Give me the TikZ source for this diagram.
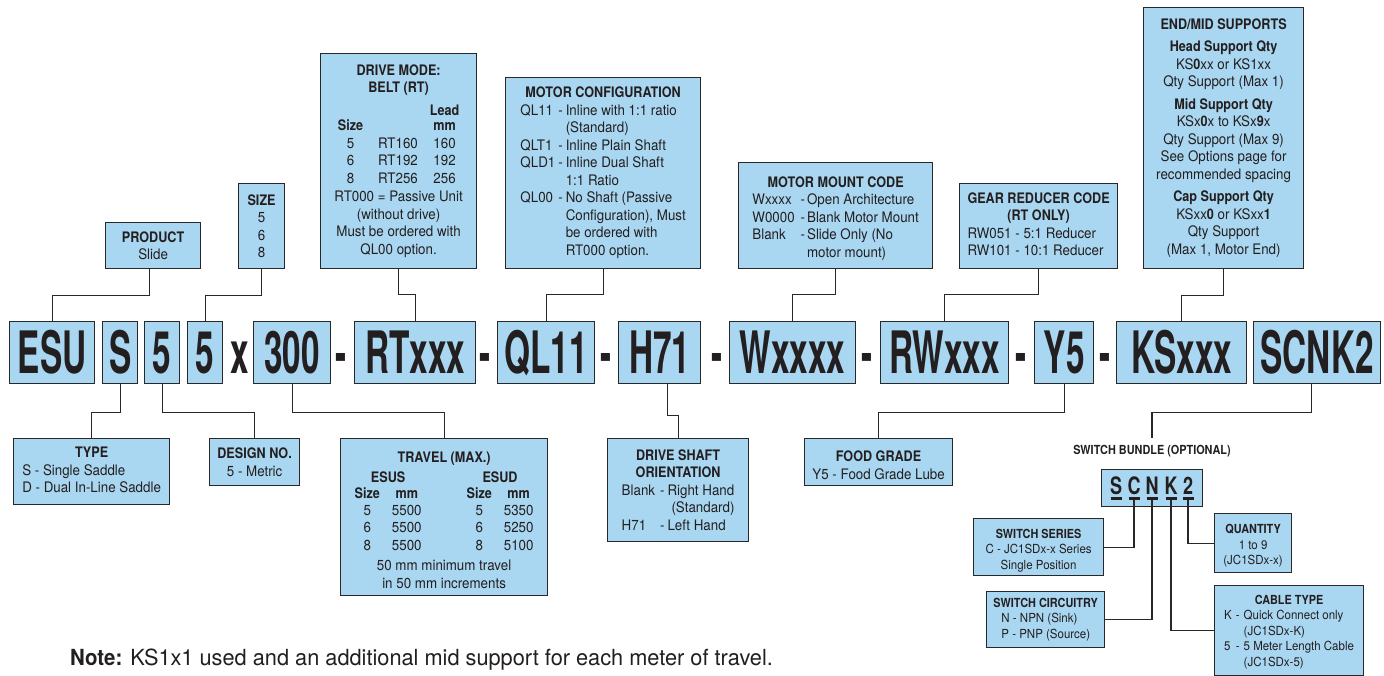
\documentclass[tikz,border=0pt]{standalone}
\usepackage{fontspec}
\setmainfont{TeX Gyre Heros}[UprightFeatures={FakeStretch=0.92}, BoldFeatures={FakeStretch=0.87}]
\newfontfamily\codefont{TeX Gyre Heros}[FakeStretch=0.57]
\newfontfamily\swfont{TeX Gyre Heros}[FakeStretch=0.75]
\newfontfamily\notefont{TeX Gyre Heros}[UprightFeatures={FakeStretch=0.98}, BoldFeatures={FakeStretch=0.92}]
\definecolor{boxc}{RGB}{169,214,240}
\definecolor{linec}{RGB}{40,40,40}
\definecolor{txtc}{RGB}{35,31,32}
\setlength{\tabcolsep}{0pt}
\newcommand{\toppad}[1]{\rule{0pt}{#1}}
\tikzset{
  box/.style={draw=linec, fill=boxc, line width=1.2pt, anchor=north west, inner sep=0pt, align=center, text=txtc, font=\fontsize{14.5}{17.5}\selectfont},
  smallbox/.style={box, font=\fontsize{12.5}{15.5}\selectfont},
  codebox/.style={box, line width=1.3pt, font=\codefont\bfseries\fontsize{58.5}{60}\selectfont, text height=42pt, text depth=0pt, minimum height=62pt},
  codesep/.style={anchor=base, inner sep=0pt, text=txtc, font=\codefont\bfseries\fontsize{58.5}{60}\selectfont},
  swletter/.style={anchor=base, inner sep=0pt, text=txtc, font=\swfont\bfseries\fontsize{24}{26}\selectfont},
  wire/.style={draw=linec, line width=1.2pt},
  uline/.style={draw=txtc, line width=2.4pt},
}
\begin{document}
\begin{tikzpicture}[x=1pt, y=-1pt]
\useasboundingbox (0,0) rectangle (1384,675);
\fill[white] (0,0) rectangle (1384,675);

% ---- main code row ----
\node[codebox, minimum width=85pt] (esu) at (9,321) {ESU};
\node[codebox, minimum width=35pt] (s) at (102,321) {S};
\node[codebox, minimum width=35pt] (fivea) at (144,321) {5};
\node[codebox, minimum width=35pt] (fiveb) at (187,321) {5};
\node[codesep] (xx) at (240,373) {x};
\node[codebox, minimum width=77pt] (trv) at (253,321) {300};
\node[codesep] (d1) at (341,373) {-};
\node[codebox, minimum width=121pt] (rt) at (354,321) {RTxxx};
\node[codesep] (d2) at (485,373) {-};
\node[codebox, minimum width=97pt] (ql) at (497,321) {QL11};
\node[codesep] (d3) at (606,373) {-};
\node[codebox, minimum width=82pt] (h71) at (618,321) {H71};
\node[codesep] (d4) at (717,373) {-};
\node[codebox, minimum width=126pt] (w) at (729,321) {Wxxxx};
\node[codesep] (d5) at (867,373) {-};
\node[codebox, minimum width=128pt] (rw) at (880,321) {RWxxx};
\node[codesep] (d6) at (1021,373) {-};
\node[codebox, minimum width=59pt] (y5) at (1034,321) {Y5};
\node[codesep] (d7) at (1105,373) {-};
\node[codebox, minimum width=130pt] (ks) at (1116,321) {KSxxx};
\node[codebox, minimum width=127pt] (scnk) at (1253,321) {SCNK2};

% ---- upper boxes ----
\node[box, minimum width=95pt, minimum height=46pt] (product) at (105,222) {\textbf{PRODUCT}\\Slide};
\node[box, minimum width=46pt, minimum height=85pt] (size) at (238,183) {\textbf{SIZE}\\5\\6\\8};
\node[box, minimum width=156pt, minimum height=215pt] (drive) at (320,53) {\textbf{DRIVE MODE:}\\\textbf{BELT (RT)}\\[6pt]
\begin{tabular}{@{}c@{\hspace{15pt}}c@{\hspace{12pt}}c@{}}
 & & \textbf{Lead}\\[-2pt]
\textbf{Size} & & \textbf{mm}\\
5 & RT160 & 160\\
6 & RT192 & 192\\
8 & RT256 & 256
\end{tabular}\\[2pt]
RT000 = Passive Unit\\(without drive)\\Must be ordered with\\QL00 option.};
\node[box, minimum width=195pt, minimum height=191pt] (motor) at (505,77) {%
\begin{tabular}{@{}l@{\hspace{3pt}}l@{\hspace{3pt}}l@{}}
\multicolumn{3}{c}{\textbf{MOTOR CONFIGURATION}}\\
QL11 & - & Inline with 1:1 ratio\\
 & & (Standard)\\
QLT1 & - & Inline Plain Shaft\\
QLD1 & - & Inline Dual Shaft\\
 & & 1:1 Ratio\\
QL00 & - & No Shaft (Passive\\
 & & Configuration), Must\\
 & & be ordered with\\
 & & RT000 option.
\end{tabular}};
\node[box, minimum width=194pt, minimum height=106pt] (mount) at (738,162) {%
\begin{tabular}{@{}l@{\hspace{6pt}}l@{\hspace{2pt}}l@{}}
\multicolumn{3}{c}{\toppad{18.5pt}\textbf{MOTOR MOUNT CODE}}\\
Wxxxx & - & Open Architecture\\
W0000 & - & Blank Motor Mount\\
Blank & - & Slide Only (No\\
 & & motor mount)
\end{tabular}};
\node[box, minimum width=158pt, minimum height=85pt] (gear) at (959,183) {%
\begin{tabular}{@{}l@{}}
\multicolumn{1}{c}{\textbf{GEAR REDUCER CODE}}\\
\multicolumn{1}{c}{\textbf{(RT ONLY)}}\\
RW051 - 5:1 Reducer\\
RW101 - 10:1 Reducer
\end{tabular}};
\node[box, minimum width=160pt, minimum height=261pt] (supports) at (1143,7) {%
\textbf{END/MID SUPPORTS}\\[5pt]
\textbf{Head Support Qty}\\KS\textbf{0}xx or KS1xx\\Qty Support (Max 1)\\[5pt]
\textbf{Mid Support Qty}\\KSx\textbf{0}x to KSx\textbf{9}x\\Qty Support (Max 9)\\See Options page for\\recommended spacing\\[5pt]
\textbf{Cap Support Qty}\\KSxx\textbf{0} or KSxx\textbf{1}\\Qty Support\\(Max 1, Motor End)};

% ---- lower boxes ----
\node[box, minimum width=156pt, minimum height=66pt] (type) at (13,438) {%
\begin{tabular}{@{}l@{}}
\multicolumn{1}{c}{\textbf{TYPE}}\\
S - Single Saddle\\
D - Dual In-Line Saddle
\end{tabular}};
\node[box, minimum width=90pt, minimum height=47pt] (design) at (209,438) {\textbf{DESIGN NO.}\\5 - Metric};
\node[box, minimum width=207pt, minimum height=157pt] (travel) at (340,438) {%
\begin{tabular}{@{}c@{\hspace{12pt}}c@{\hspace{45pt}}c@{\hspace{12pt}}c@{}}
\multicolumn{4}{c}{\toppad{22pt}\textbf{TRAVEL (MAX.)}}\\[2pt]
\multicolumn{2}{c@{\hspace{45pt}}}{\textbf{ESUS}} & \multicolumn{2}{c}{\textbf{ESUD}}\\[-1pt]
\textbf{Size} & \textbf{mm} & \textbf{Size} & \textbf{mm}\\[-1pt]
5 & 5500 & 5 & 5350\\
6 & 5500 & 6 & 5250\\
8 & 5500 & 8 & 5100\\[3pt]
\multicolumn{4}{c}{50 mm minimum travel}\\
\multicolumn{4}{c}{in 50 mm increments}
\end{tabular}};
\node[box, minimum width=141pt, minimum height=103pt] (shaft) at (607,438) {%
\begin{tabular}{@{}l@{\hspace{5pt}}l@{\hspace{3pt}}l@{}}
\multicolumn{3}{c}{\toppad{16pt}\textbf{DRIVE SHAFT}}\\
\multicolumn{3}{c}{\textbf{ORIENTATION}}\\
Blank & - & Right Hand\\
 & & \hspace{4pt}(Standard)\\
H71 & - & Left Hand
\end{tabular}};
\node[box, minimum width=148pt, minimum height=47pt] (food) at (804,438) {\toppad{17pt}\textbf{FOOD GRADE}\\Y5 - Food Grade Lube};

% ---- switch bundle ----
\node[inner sep=0pt, text=txtc, font=\bfseries\fontsize{12.5}{15}\selectfont] (swlabel) at (1152,451) {SWITCH BUNDLE (OPTIONAL)};
\node[box, minimum width=101pt, minimum height=37pt] (swbox) at (1101,469) {};
\node[swletter] (ls) at (1116,494) {S};
\node[swletter] (lc) at (1134,494) {C};
\node[swletter] (ln) at (1152,494) {N};
\node[swletter] (lk) at (1171,494) {K};
\node[swletter] (ltwo) at (1188,494) {2};
\foreach \n in {ls,lc,ln,lk,ltwo}
  \draw[uline] ([xshift=-5.5pt,yshift=-4.5pt]\n.base) -- ([xshift=5.5pt,yshift=-4.5pt]\n.base);

\node[smallbox, minimum width=130pt, minimum height=57pt] (series) at (973,518) {\toppad{16pt}\textbf{SWITCH SERIES}\\C - JC1SDx-x Series\\Single Position};
\node[smallbox, minimum width=118pt, minimum height=56pt] (circ) at (986,591) {%
\begin{tabular}{@{}l@{}}
\multicolumn{1}{c}{\textbf{SWITCH CIRCUITRY}}\\
\hspace{8pt}N - NPN (Sink)\\
\hspace{8pt}P - PNP (Source)
\end{tabular}};
\node[smallbox, minimum width=77pt, minimum height=59pt] (qty) at (1214,513) {\toppad{15pt}\textbf{QUANTITY}\\1 to 9\\(JC1SDx-x)};
\node[smallbox, minimum width=149pt, minimum height=90pt] (cable) at (1214,585) {%
\begin{tabular}{@{}l@{\hspace{4pt}}l@{\hspace{4pt}}l@{}}
\multicolumn{3}{c}{\toppad{14pt}\textbf{CABLE TYPE}}\\
K & - & Quick Connect only\\
 & & (JC1SDx-K)\\
5 & - & 5 Meter Length Cable\\
 & & (JC1SDx-5)
\end{tabular}};

% ---- note ----
\node[anchor=west, inner sep=0pt, text=txtc, font=\notefont\fontsize{22.2}{26}\selectfont] (note) at (70,660) {\textbf{Note:} KS1x1 used and an additional mid support for each meter of travel.};

% ---- connectors (upper) ----
\draw[wire] ([xshift=-4pt]product.south) -- ++(0,26) -| (esu.north);
\draw[wire] (size.south) -- ++(0,26) -| (fiveb.north);
\draw[wire] (drive.south) -- ++(0,25) -| (rt.north);
\draw[wire] (motor.south) -- ++(0,25) -| (ql.north);
\draw[wire] (mount.south) -- ++(0,25) -| (w.north);
\draw[wire] (gear.south) -- ++(0,25) -| (rw.north);
\draw[wire] (supports.south) -- ++(0,26) -| (ks.north);
% ---- connectors (lower) ----
\draw[wire] (s.south) -- ++(0,28) -| (type.north);
\draw[wire] (fivea.south) -- ++(0,28) -| (design.north);
\draw[wire] (trv.south) -- ++(0,28) -| (travel.north);
\draw[wire] ([xshift=8pt]h71.south) -- ++(0,31) -| (shaft.north);
\draw[wire] (y5.south) -- ++(0,28) -| (food.north);
\draw[wire] ([xshift=-6pt]scnk.south) -- ++(0,28) -| ([yshift=7pt]swlabel.north);
% ---- switch connectors ----
\draw[wire] ([yshift=-6pt]lc.base) |- (series.east);
\draw[wire] ([yshift=-6pt]ln.base) |- (circ.east);
\draw[wire] ([yshift=-6pt]lk.base) |- (cable.west);
\draw[wire] ([yshift=-6pt]ltwo.base) |- (qty.west);
\end{tikzpicture}
\end{document}
